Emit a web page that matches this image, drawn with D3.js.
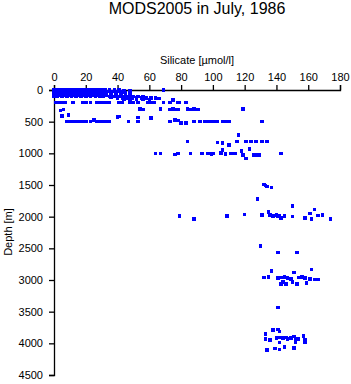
<!DOCTYPE html>
<html>
<head>
<meta charset="utf-8">
<script src="https://cdn.jsdelivr.net/npm/d3@7"></script>
<style>
  body { margin: 0; background: #fff; }
  svg { display: block; font-family: "Liberation Sans", Arial, sans-serif; }
</style>
</head>
<body>
<div id="chart"></div>
<script>
// Silicate [umol/l], depth [m]
const mixedLayer = [
  [0,0],[2,0],[4,0],[6,0],[8,0],[10,0],[12,0],[14,0],[16,0],[18,0],[20,0],[22,0],[24,0],[26,0],[28,0],[30,0],[32,0],[35,0],[38,0],[41,0],[44,5],[48,10],[69,0],
  [1,25],[3,25],[5,25],[7,25],[9,25],[11,25],[13,25],[15,25],[17,25],[19,25],[21,25],[23,25],[25,25],[27,25],[29,25],[31,25],[34,25],[37,25],[40,25],[43,30],
  [0,50],[2,50],[4,50],[6,50],[8,50],[10,50],[12,50],[14,50],[16,50],[18,50],[20,50],[22,50],[24,50],[26,50],[28,50],[30,50],[33,50],[36,50],[39,50],[42,50],[45,50],[48,45],
  [1,75],[3,75],[5,75],[7,75],[9,75],[11,75],[13,75],[15,75],[17,75],[19,75],[21,75],[23,75],[25,75],[27,75],[29,75],[31,75],[33,75],[36,75],[39,75],[42,75],[45,80],[48,80],
  [0,95],[2,95],[5,95],[8,95],[11,95],[14,95],[17,95],[20,95],[23,95],[26,95],[29,95],[31,95],[35,100],[38,100],[41,100],[44,100],[47,100],[50,105],[53,105],[56,110],
  [36,120],[40,125],[43,125],[46,125],[49,125],[52,130],[55,130],[58,130],[61,130],[64,125],[66,135],
  [44,150],[48,150],[52,145],[56,150],[60,150]
];
const thermocline = [
  [1,195],[3,195],[5,195],[7,195],[12,195],[18,195],[20,200],[23,195],[27,200],[29,195],[31,200],[33,195],[35,195],
  [41,200],[43,195],[48,200],[50,200],[53,195],[59,200],[61,195],[63,200],[69,200],[73,200],[75,160],[78,200],[79,200],[83,200],
  [4,325],[6,305],[54,300],[56,305],[67,300],[73,305],[75,300],[76,305],[78,305],[84,300],[86,305],[88,300],[89,305],[91,305],[119,300],
  [5,410],[9,395],[40,430],[41,420],[53,435],[61,445]
];
const intermediate = [
  [8,500],[10,500],[12,500],[14,500],[16,500],[18,500],[20,500],[23,500],[25,470],[27,500],[29,500],[31,500],[33,500],[35,500],
  [47,500],[53,500],[73,500],[76,470],[78,480],[80,525],[83,520],[88,500],[92,500],[95,500],[97,500],[99,500],[101,500],[103,500],[106,500],[108,500],[110,500],[131,500],
  [116,710],[84,815],[103,830],[106,840],[110,870],[115,810],[121,810],[124,810],[127,810],[131,810],[134,810],
  [64,1000],[67,1000],[76,1020],[78,1000],[86,1000],[93,1000],[97,1000],[99,1010],[100,1000],[105,990],[106,950],[108,1010],
  [111,1000],[113,1000],[114,1000],[118,965],[119,1030],[121,1080],[123,935],[126,1030],[127,1030],[129,1030],[143,1000]
];
const deep2000 = [
  [132,1490],[133,1510],[134,1525],[137,1540],[128,1720],
  [79,1985],[88,2040],[109,1985],[120,1965],[131,1975],[135,1925],[136,1975],[138,1990],[140,1970],[141,2000],[142,1980],[143,2020],[145,1990],
  [150,1830],[150,2000],[158,2025],[161,1950],[162,2040],[164,1885],[166,1980],[169,1975],[174,2040],
  [130,2465],[141,2565],[153,2565]
];
const deep3000 = [
  [137,2855],[162,2835],[151,2880],
  [132,2960],[135,2955],[141,2970],[143,2960],[145,2950],[147,2965],[149,2985],[154,2960],[156,2950],[158,2970],[161,2985],[164,2990],[166,2990],
  [143,3065],[144,3030],[146,3065],[150,3030],[153,3065],[159,3050],
  [141,3435]
];
const deep4000 = [
  [133,3855],[138,3790],[141,3780],[142,3815],
  [133,3935],[136,3950],[140,3915],[142,3905],[144,3920],[146,3910],[147,3930],[149,3920],[151,3895],[152,3935],[154,3930],[157,3880],[158,3940],
  [142,3985],[152,3985],[158,3980],
  [134,4105],[139,4080],[142,4100],[145,4055],[151,4070]
];
const xTicks = [0, 20, 40, 60, 80, 100, 120, 140, 160, 180];
const yTicks = [0, 500, 1000, 1500, 2000, 2500, 3000, 3500, 4000, 4500];

const points = [].concat(mixedLayer, thermocline, intermediate, deep2000, deep3000, deep4000);

const width = 351, height = 384;
const margin = {top: 90, left: 54};
const plotW = 286, plotH = 285;

const svg = d3.select("#chart").append("svg")
  .attr("width", width)
  .attr("height", height);

const x = d3.scaleLinear().domain([0, 180]).range([0, plotW]);
const y = d3.scaleLinear().domain([0, 4500]).range([0, plotH]);

const g = svg.append("g")
  .attr("transform", `translate(${margin.left},${margin.top})`);

// axes
const xAxis = g.append("g")
  .call(d3.axisTop(x).tickValues(xTicks).tickFormat(d3.format("d")).tickSize(5).tickPadding(4));
const yAxis = g.append("g")
  .call(d3.axisLeft(y).tickValues(yTicks).tickFormat(d3.format("d")).tickSize(5).tickPadding(6));

[xAxis, yAxis].forEach(a => {
  a.select(".domain").attr("stroke", "#000").attr("stroke-width", 1.3);
  a.selectAll(".tick line").attr("stroke", "#000").attr("stroke-width", 1.3);
  a.selectAll(".tick text").attr("fill", "#000").attr("font-size", 11)
    .attr("font-family", "Liberation Sans, Arial, sans-serif");
});

// points
g.selectAll(".pt")
  .data(points)
  .enter().append("rect")
  .attr("class", "pt")
  .attr("x", d => x(d[0]) - 1.8)
  .attr("y", d => y(d[1]) - 1.8)
  .attr("width", 3.6)
  .attr("height", 3.6)
  .attr("shape-rendering", "crispEdges")
  .attr("fill", "#0000ff");

// labels
svg.append("text")
  .attr("x", 197).attr("y", 14)
  .attr("text-anchor", "middle")
  .attr("font-size", 16)
  .text("MODS2005 in July, 1986");

svg.append("text")
  .attr("x", 197).attr("y", 64)
  .attr("text-anchor", "middle")
  .attr("font-size", 11)
  .text("Silicate [µmol/l]");

svg.append("text")
  .attr("transform", "translate(12,232) rotate(-90)")
  .attr("text-anchor", "middle")
  .attr("font-size", 11)
  .text("Depth [m]");
</script>
</body>
</html>
